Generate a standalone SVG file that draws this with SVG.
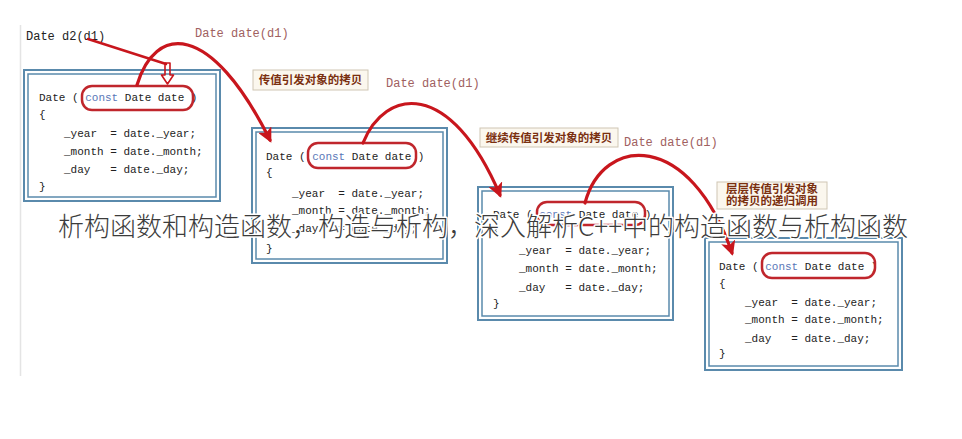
<svg xmlns="http://www.w3.org/2000/svg" width="962" height="439" viewBox="0 0 962 439">
<defs>
<style>
.code{font-family:"Liberation Mono","DejaVu Sans Mono",monospace;font-size:11px;fill:#222;white-space:pre}
.kw{fill:#5a78b8}
.call{font-family:"Liberation Mono","DejaVu Sans Mono",monospace;font-size:12px;fill:#a06060;white-space:pre}
.outer{fill:#fff;stroke:#5a8aac;stroke-width:2}
.inner{fill:none;stroke:#5a8aac;stroke-width:1.5}
.pill{fill:none;stroke:#c0262c;stroke-width:2.5}
.lbl{fill:#fbf7ee;stroke:#cfc6b4;stroke-width:1}
.lbltxt{font-family:"Noto Sans CJK SC","Noto Sans",sans-serif;font-size:11.5px;font-weight:bold;fill:#7a3010}
.arc{fill:none;stroke:#c8161d;stroke-width:3.2;stroke-linecap:round}
.title{font-family:"Noto Sans CJK SC","Noto Sans",sans-serif;font-size:26px;font-weight:300;fill:#3c3c3c;stroke:#fff;stroke-width:3;paint-order:stroke;stroke-linejoin:round}
</style>
<marker id="ah" viewBox="0 0 10 10" refX="8" refY="5" markerWidth="4.6" markerHeight="4.6" orient="auto" markerUnits="strokeWidth">
<path d="M0,0 L10,5 L0,10 L2.5,5 Z" fill="#c8161d"/>
</marker>
</defs>
<rect width="962" height="439" fill="#fff"/>
<line x1="20.5" y1="25" x2="20.5" y2="376" stroke="#e4e4e4" stroke-width="1.5"/>

<text class="code" x="26" y="40" style="font-size:12px">Date d2(d1)</text>
<text class="call" x="195" y="37">Date date(d1)</text>
<text class="call" x="386" y="87">Date date(d1)</text>
<text class="call" x="624" y="146">Date date(d1)</text>

<g id="box1">
<rect class="outer" x="24" y="70" width="196" height="131"/>
<rect class="inner" x="28" y="74" width="188" height="123"/>
<text class="code" x="39" y="101">Date ( <tspan class="kw">const</tspan> Date date )</text>
<text class="code" x="39" y="118">{</text>
<text class="code" x="64" y="137">_year  = date._year;</text>
<text class="code" x="64" y="155">_month = date._month;</text>
<text class="code" x="64" y="173">_day   = date._day;</text>
<text class="code" x="39" y="190">}</text>
<rect class="pill" x="82" y="86" width="111" height="24" rx="10"/>
</g>

<g id="box2">
<rect class="outer" x="252" y="128" width="195" height="135"/>
<rect class="inner" x="256" y="132" width="187" height="127"/>
<text class="code" x="266" y="160">Date ( <tspan class="kw">const</tspan> Date date )</text>
<text class="code" x="266" y="176">{</text>
<text class="code" x="292" y="197">_year  = date._year;</text>
<text class="code" x="292" y="214">_month = date._month;</text>
<text class="code" x="292" y="232">_day   = date._day;</text>
<text class="code" x="266" y="252">}</text>
<rect class="pill" x="308" y="143" width="108" height="25" rx="10"/>
</g>

<g id="box3">
<rect class="outer" x="478" y="187" width="195" height="133"/>
<rect class="inner" x="482" y="191" width="187" height="125"/>
<text class="code" x="493" y="218">Date ( <tspan class="kw">const</tspan> Date date )</text>
<text class="code" x="493" y="234">{</text>
<text class="code" x="519" y="254">_year  = date._year;</text>
<text class="code" x="519" y="272">_month = date._month;</text>
<text class="code" x="519" y="291">_day   = date._day;</text>
<text class="code" x="493" y="307">}</text>
<rect class="pill" x="537" y="202" width="108" height="23" rx="10"/>
</g>

<g id="box4">
<rect class="outer" x="705" y="238" width="197" height="132"/>
<rect class="inner" x="709" y="242" width="189" height="124"/>
<text class="code" x="719" y="270">Date ( <tspan class="kw">const</tspan> Date date )</text>
<text class="code" x="719" y="287">{</text>
<text class="code" x="745" y="306">_year  = date._year;</text>
<text class="code" x="745" y="323">_month = date._month;</text>
<text class="code" x="745" y="342">_day   = date._day;</text>
<text class="code" x="719" y="357">}</text>
<rect class="pill" x="762" y="253" width="113" height="25" rx="10"/>
</g>

<g id="label1">
<rect class="lbl" x="253" y="70" width="115" height="20"/>
<text class="lbltxt" x="310.5" y="84" text-anchor="middle">传值引发对象的拷贝</text>
</g>
<g id="label2">
<rect class="lbl" x="480" y="128" width="138" height="19"/>
<text class="lbltxt" x="549" y="141.5" text-anchor="middle">继续传值引发对象的拷贝</text>
</g>
<g id="label3">
<rect class="lbl" x="717" y="182" width="110" height="27"/>
<text class="lbltxt" x="772" y="193" text-anchor="middle">层层传值引发对象</text>
<text class="lbltxt" x="772" y="205" text-anchor="middle">的拷贝的递归调用</text>
</g>

<g id="connectors">
<line x1="88" y1="39" x2="166" y2="64" stroke="#c8161d" stroke-width="2.5" stroke-linecap="round"/>
<path d="M165,63 L170,63 L170,75 L173.5,75 L167.5,84 L161.5,75 L165,75 Z" fill="none" stroke="#c8161d" stroke-width="1.6" stroke-linejoin="round"/>
<path class="arc" d="M137,85 C155,25 210,20 270,140" marker-end="url(#ah)"/>
<path class="arc" d="M363,143 C385,88 450,78 500,195" marker-end="url(#ah)"/>
<path class="arc" d="M585,203 C603,135 690,130 732,253" marker-end="url(#ah)"/>
</g>

<text class="title" x="58" y="236">析构函数和构造函数，构造与析构，深入解析C++中的构造函数与析构函数</text>
</svg>
